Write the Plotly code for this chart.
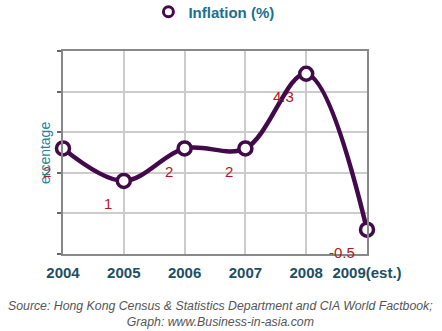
import plotly.graph_objects as go

years = ["2004", "2005", "2006", "2007", "2008", "2009(est.)"]
inflation = [2, 1, 2, 2, 4.3, -0.5]
labels = ["2", "1", "2", "2", "4.3", "-0.5"]

xs = list(range(len(years)))
purple = "#420a4a"
fig = go.Figure()
fig.add_trace(go.Scatter(
    x=xs, y=inflation, mode="lines+markers",
    line=dict(color=purple, width=4.5, shape="spline", smoothing=1.0),
    marker=dict(symbol="circle", size=13, color="white", line=dict(color=purple, width=3.5)),
    cliponaxis=False, showlegend=False, hoverinfo="skip"))
fig.add_trace(go.Scatter(
    x=[None], y=[None], mode="markers", name="Inflation (%)",
    marker=dict(symbol="circle", size=10, color="white", line=dict(color=purple, width=3)),
    showlegend=True))

for x, y, t in zip(xs, inflation, labels):
    fig.add_annotation(x=x, y=y, text=t, showarrow=False, xanchor="right", yanchor="middle",
                       xshift=-10, yshift=-23,
                       font=dict(family="Liberation Sans", size=15, color="#b5161c"))

fig.add_annotation(xref="paper", yref="paper", x=-0.059, y=0.4975, text="ercentage",
                   textangle=-90, showarrow=False, xanchor="center", yanchor="middle",
                   font=dict(family="Liberation Sans", size=14, color="#2a7f9b"))
fig.add_annotation(xref="paper", yref="paper", x=(220 - 63) / 304, y=(254 - 314) / 203,
                   text="Source: Hong Kong Census &amp; Statistics Department and CIA World Factbook;<br>Graph: www.Business-in-asia.com",
                   showarrow=False, align="center", xanchor="center", yanchor="middle",
                   font=dict(family="Liberation Sans", size=12.3, color="#555555", style="italic"))

fig.update_xaxes(range=[0, 5], tickvals=xs, ticktext=years, showgrid=True, gridcolor="#cccccc",
                 gridwidth=1.5, showline=True, linecolor="#888888", linewidth=2, mirror=True,
                 zeroline=False, ticks="", ticklabelstandoff=4,
                 tickfont=dict(family="Liberation Sans", size=15, color="#1d4f63", weight="bold"))
fig.update_yaxes(range=[-1.25, 5], tick0=-1.25, dtick=1.25, showgrid=True, gridcolor="#cccccc",
                 gridwidth=1.5, showline=True, linecolor="#888888", linewidth=2, mirror=True,
                 zeroline=False, ticks="outside", ticklen=4, tickcolor="#666666", tickwidth=2,
                 showticklabels=False)

fig.update_layout(
    width=442, height=331, margin=dict(l=63, r=75, t=51, b=77, autoexpand=False),
    paper_bgcolor="white", plot_bgcolor="white",
    legend=dict(orientation="h", xref="container", yref="container",
                x=0.484, xanchor="center", y=1 - 12 / 331, yanchor="middle",
                font=dict(family="Liberation Sans", size=15, color="#1e6f8c", weight="bold")),
)
fig.write_html("out.html")
